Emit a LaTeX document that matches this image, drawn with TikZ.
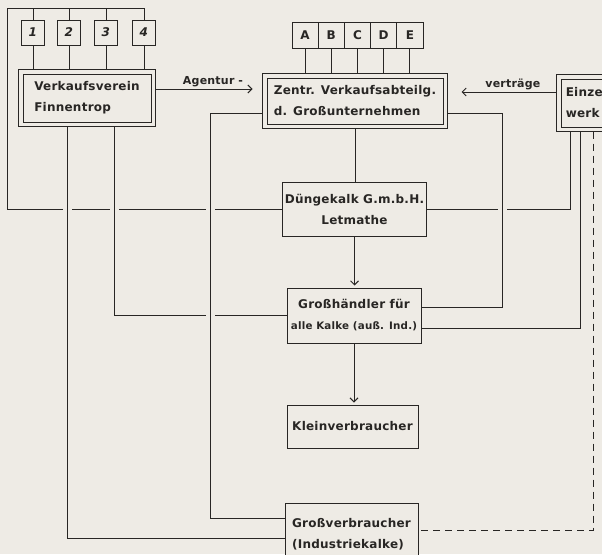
\documentclass[tikz,border=0pt]{standalone}
\definecolor{paper}{RGB}{238, 235, 229}
\definecolor{ink}{RGB}{40, 38, 36}
\usepackage{fontspec}
\newfontfamily\hand[LetterSpace=2]{DejaVu Sans}
\usepackage{tikz}
\usetikzlibrary{arrows.meta, positioning, calc}

\tikzset{
  box/.style={draw=ink, line width=1pt, fill=paper, inner sep=2pt, text=ink,
    font=\hand\bfseries\fontsize{12}{21}\selectfont},
  numbox/.style={box, minimum width=23pt, minimum height=25pt},
  letbox/.style={box, minimum width=26.2pt, minimum height=26pt},
  frame/.style={draw=ink, line width=1pt},
  link/.style={draw=ink, line width=1pt},
  hop/.style={preaction={draw=paper, line width=9pt, shorten <=6pt, shorten >=6pt}},
  flow/.style={link, -{Straight Barb[length=4pt, width=8pt]}},
  loose/.style={link, dash pattern=on 7pt off 5pt},
  tag/.style={text=ink, font=\hand\bfseries\fontsize{11}{13}\selectfont, inner sep=2pt}
}

\begin{document}
\begin{tikzpicture}[x=1pt, y=-1pt]
  \useasboundingbox (0,0) rectangle (602,554);
  \fill[paper] (0,0) rectangle (602,554);
  \clip (0,0) rectangle (602,554);

  % member works and selling units
  \foreach \n/\x in {1/33, 2/69, 3/106, 4/144}
    \node[numbox] (k\n) at (\x,32.5) {\textit{\n}};
  \foreach \l [count=\i from 0] in {A,B,C,D,E}
    \node[letbox] (\l) at (305.1+26.2*\i,35) {\l};

  \node[box, minimum width=128pt, minimum height=48pt, align=left] (vv) at (87,98)
    {Verkaufsverein\\Finnentrop};
  \node[box, minimum width=176pt, minimum height=46pt, align=left] (zv) at (355,101)
    {Zentr. Verkaufsabteilg.\\d. Großunternehmen};
  \node[box, minimum width=56pt, minimum height=48pt, align=left] (ew) at (589,103)
    {Einzel-\\werk};
  \node[box, minimum width=133pt, minimum height=54pt, align=center] (dk) at (354.5,209)
    {Düngekalk G.m.b.H.\\Letmathe};
  \node[box, minimum width=134pt, minimum height=55pt, align=center] (gh) at (354,315.5)
    {Großhändler für\\{\fontsize{10.3}{21}\selectfont alle Kalke (auß. Ind.)}};
  \node[box, minimum width=131pt, minimum height=43pt] (kv) at (352.5,426.5)
    {Kleinverbraucher};
  \node[box, minimum width=133pt, minimum height=62pt, align=left] (gv) at (351.5,534)
    {Großverbraucher\\(Industriekalke)};

  % second border round the three offices
  \foreach \b in {vv,zv,ew}
    \draw[frame] ([xshift=-4pt, yshift=-4pt]\b.south west) rectangle ([xshift=4pt, yshift=4pt]\b.north east);

  \coordinate (topL) at (7,8);
  \coordinate (vvA) at ([xshift=-20pt]vv.south);
  \coordinate (vvB) at ([xshift=27pt]vv.south);
  \coordinate (colC) at (210,113);
  \coordinate (colD) at (502,113);
  \coordinate (ewA) at ([xshift=-19pt]ew.south);
  \coordinate (ewB) at ([xshift=-9pt]ew.south);
  \coordinate (ewC) at ([xshift=4pt]ew.south);
  \coordinate (agA) at ([yshift=9pt]vv.east);
  \coordinate (vtA) at ([yshift=11pt]ew.west);

  % long lines first, the crossing ones cut gaps into them
  \draw[link] (k4.north) |- (topL) |- (dk.west);
  \foreach \n in {1,2,3}
    \draw[link] (k\n.north) -- (k\n.north |- topL);
  \draw[link] ([yshift=-4pt]ewA) |- (dk.east);

  \draw[link, hop] ([yshift=-4pt]vvB) |- (gh.west);
  \draw[link, hop] ([yshift=-4pt]vvA) |- ([yshift=-4pt]gv.west);
  \draw[link, hop] ([yshift=-12pt, xshift=-4pt]zv.west) -| (colC) |- ([yshift=16pt]gv.west);
  \draw[link, hop] ([yshift=-12pt, xshift=4pt]zv.east) -| (colD) |- ([yshift=8.5pt]gh.east);
  \draw[link] ([yshift=-4pt]ewB) |- ([yshift=-12.5pt]gh.east);
  \draw[loose] ([yshift=-4pt]ewC) |- ([yshift=4pt]gv.east);

  \foreach \n in {1,2,3,4}
    \draw[link] (k\n.south) -- ([yshift=4pt]k\n.south |- vv.north);
  \foreach \l in {A,B,C,D,E}
    \draw[link] (\l.south) -- ([yshift=4pt]\l.south |- zv.north);
  \draw[link] ([yshift=-4pt]zv.south) -- (zv.south |- dk.north);

  \draw[flow, shorten >=2pt] (dk.south) -- (dk.south |- gh.north);
  \draw[flow, shorten >=2pt] (gh.south) -- (gh.south |- kv.north);

  \draw[flow, shorten >=10pt] ([xshift=4pt]agA) -- ([xshift=-4pt]agA -| zv.west)
    node[tag, midway, above, xshift=4pt] (agt) {Agentur -};
  \draw[flow, shorten >=14pt] ([xshift=-4pt]vtA) -- ([xshift=4pt]vtA -| zv.east)
    node[tag, pos=0.4, above] (vtg) {verträge};
\end{tikzpicture}
\end{document}
